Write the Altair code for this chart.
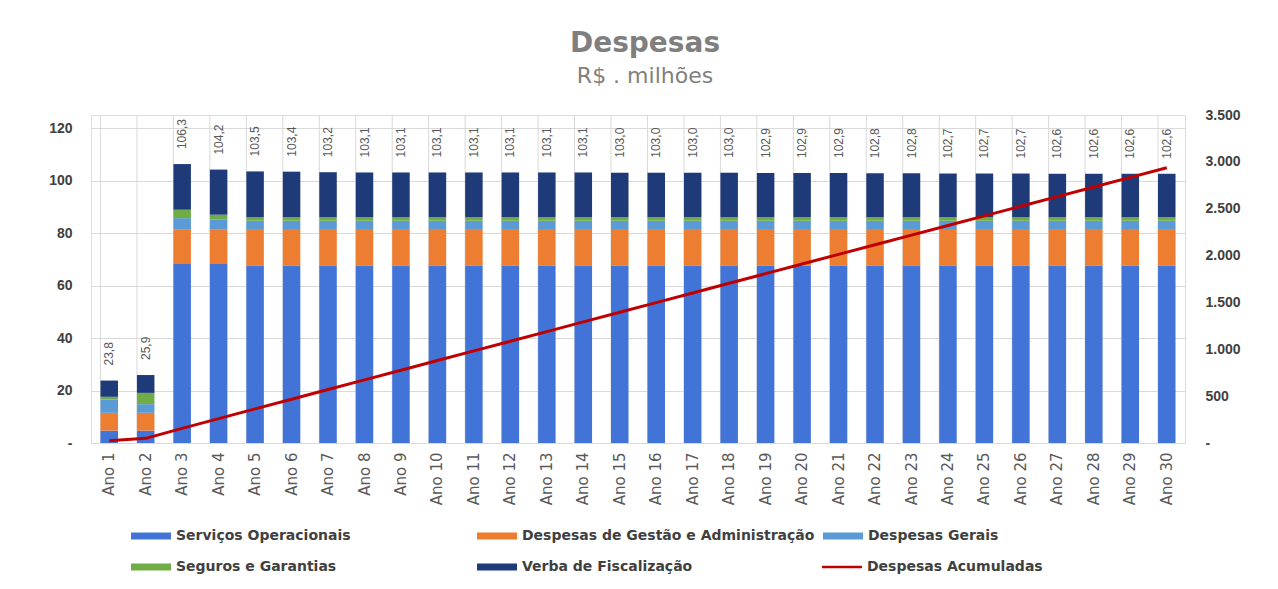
import altair as alt
import pandas as pd

anos = ["Ano 1", "Ano 2", "Ano 3", "Ano 4", "Ano 5", "Ano 6", "Ano 7", "Ano 8", "Ano 9", "Ano 10",
        "Ano 11", "Ano 12", "Ano 13", "Ano 14", "Ano 15", "Ano 16", "Ano 17", "Ano 18", "Ano 19", "Ano 20",
        "Ano 21", "Ano 22", "Ano 23", "Ano 24", "Ano 25", "Ano 26", "Ano 27", "Ano 28", "Ano 29", "Ano 30"]

series = ["Serviços Operacionais", "Despesas de Gestão e Administração", "Despesas Gerais",
          "Seguros e Garantias", "Verba de Fiscalização"]
serie_linha = "Despesas Acumuladas"

servicos = [4.7, 4.7, 68.2, 68.2, 67.6, 67.6, 67.6, 67.6, 67.6, 67.6,
            67.6, 67.6, 67.6, 67.6, 67.6, 67.6, 67.6, 67.6, 67.6, 67.6,
            67.6, 67.6, 67.6, 67.6, 67.6, 67.6, 67.6, 67.6, 67.6, 67.6]
gestao = [6.8, 6.8, 13.3, 13.3, 13.6, 13.6, 13.6, 13.6, 13.6, 13.6,
          13.6, 13.6, 13.6, 13.6, 13.6, 13.6, 13.6, 13.6, 13.6, 13.6,
          13.6, 13.6, 13.6, 13.6, 13.6, 13.6, 13.6, 13.6, 13.6, 13.6]
gerais = [5.1, 3.3, 4.2, 3.6, 3.5, 3.5, 3.5, 3.5, 3.5, 3.5,
          3.5, 3.5, 3.5, 3.5, 3.5, 3.5, 3.5, 3.5, 3.5, 3.5,
          3.5, 3.5, 3.5, 3.5, 3.5, 3.5, 3.5, 3.5, 3.5, 3.5]
seguros = [1.0, 4.3, 3.2, 1.9, 1.3, 1.3, 1.3, 1.3, 1.3, 1.3,
           1.3, 1.3, 1.3, 1.3, 1.3, 1.3, 1.3, 1.3, 1.3, 1.3,
           1.3, 1.3, 1.3, 1.3, 1.3, 1.3, 1.3, 1.3, 1.3, 1.3]
verba = [6.2, 6.8, 17.4, 17.2, 17.5, 17.4, 17.2, 17.1, 17.1, 17.1,
         17.1, 17.1, 17.1, 17.1, 17.0, 17.0, 17.0, 17.0, 16.9, 16.9,
         16.9, 16.8, 16.8, 16.7, 16.7, 16.7, 16.6, 16.6, 16.6, 16.6]

totais = [23.8, 25.9, 106.3, 104.2, 103.5, 103.4, 103.2, 103.1, 103.1, 103.1,
          103.1, 103.1, 103.1, 103.1, 103.0, 103.0, 103.0, 103.0, 102.9, 102.9,
          102.9, 102.8, 102.8, 102.7, 102.7, 102.7, 102.6, 102.6, 102.6, 102.6]

acumulado = [23.8, 49.7, 156.0, 260.2, 363.7, 467.1, 570.3, 673.4, 776.5, 879.6,
             982.7, 1085.8, 1188.9, 1292.0, 1395.0, 1498.0, 1601.0, 1704.0, 1806.9, 1909.8,
             2012.7, 2115.5, 2218.3, 2321.0, 2423.7, 2526.4, 2629.0, 2731.6, 2834.2, 2936.8]

cores = ["#4273D6", "#ED7D31", "#5B9BD5", "#70AD47", "#1F3A78"]
cor_linha = "#C00000"

valores = [servicos, gestao, gerais, seguros, verba]
linhas = []
for j, nome in enumerate(series):
    for i, ano in enumerate(anos):
        linhas.append({"ano": ano, "serie": nome, "valor": valores[j][i], "ordem": j})
df_barras = pd.DataFrame(linhas)

df_tot = pd.DataFrame({"ano": anos, "total": totais, "acumulado": acumulado,
                       "serie": [serie_linha] * len(anos)})

x_enc = alt.X("ano:N", sort=anos, title=None,
              scale=alt.Scale(paddingInner=0.52, paddingOuter=0.26),
              axis=alt.Axis(labelAngle=270, ticks=False, domain=False, grid=False,
                            labelFont="DejaVu Sans", labelFontSize=15, labelColor="#595959",
                            labelPadding=9))

rect_shape = "M-2,-0.35H2V0.35H-2Z"
line_shape = "M-2,-0.13H2V0.13H-2Z"

legend_common = dict(
    title=None, orient="none", symbolSize=400, symbolStrokeWidth=0,
    labelFont="DejaVu Sans", labelFontSize=14, labelFontWeight="bold",
    labelColor="#404040", labelOffset=15, labelLimit=400, padding=0,
)

legend_barras = alt.Legend(legendX=50, legendY=411, columns=3, gridAlign="all",
                           direction="horizontal",
                           columnPadding=8, rowPadding=14, symbolType=rect_shape,
                           **legend_common)
legend_linha = alt.Legend(legendX=741, legendY=442, symbolType=line_shape,
                          symbolFillColor=cor_linha, **legend_common)

grade = alt.Chart(df_tot).mark_rule(color="#d9d9d9", strokeWidth=1).encode(
    x=alt.X("ano:N", sort=anos, bandPosition=0)
)

barras = alt.Chart(df_barras).mark_bar().encode(
    x=x_enc,
    y=alt.Y("valor:Q", stack="zero", title=None,
            scale=alt.Scale(domain=[0, 125], nice=False),
            axis=alt.Axis(values=[0, 20, 40, 60, 80, 100, 120],
                          labelExpr="datum.value === 0 ? '-' : datum.label",
                          ticks=False, domain=False, grid=True, gridColor="#d9d9d9",
                          labelFont="Liberation Sans", labelFontSize=14, labelFontWeight="bold",
                          labelColor="#404040", labelPadding=19)),
    color=alt.Color("serie:N", scale=alt.Scale(domain=series, range=cores), legend=legend_barras),
    order=alt.Order("ordem:Q", sort="ascending"),
)

rotulos = alt.Chart(df_tot).transform_calculate(
    rot="replace(format(datum.total, '.1f'), '.', ',')"
).mark_text(angle=270, align="left", baseline="middle", dx=15, fontSize=12,
            font="Liberation Sans", color="#595959").encode(
    x=alt.X("ano:N", sort=anos),
    y=alt.Y("total:Q", scale=alt.Scale(domain=[0, 125], nice=False)),
    text="rot:N",
)

esquerda = alt.layer(grade, barras, rotulos)

linha = alt.Chart(df_tot).mark_line(strokeWidth=3).encode(
    x=alt.X("ano:N", sort=anos),
    y=alt.Y("acumulado:Q", title=None,
            scale=alt.Scale(domain=[0, 3500], nice=False),
            axis=alt.Axis(orient="right", values=[0, 500, 1000, 1500, 2000, 2500, 3000, 3500],
                          labelExpr="datum.value === 0 ? '-' : replace(format(datum.value, ','), ',', '.')",
                          ticks=False, domain=False, grid=False,
                          labelFont="Liberation Sans", labelFontSize=14, labelFontWeight="bold",
                          labelColor="#404040", labelPadding=20)),
    stroke=alt.Stroke("serie:N", scale=alt.Scale(domain=[serie_linha], range=[cor_linha]),
                      legend=legend_linha),
)

chart = alt.layer(esquerda, linha).resolve_scale(y="independent").properties(
    width=1094, height=328,
    padding={"left": 83, "top": 107, "right": 85, "bottom": 140},
    autosize=alt.AutoSizeParams(type="none"),
    title=alt.TitleParams("Despesas", subtitle="R$ . milhões", anchor="middle",
                          font="DejaVu Sans", fontSize=28, fontWeight="bold", color="#7f7f7f",
                          subtitleFont="DejaVu Sans", subtitleFontSize=22,
                          subtitleColor="#7f7f7f", subtitlePadding=8, offset=21, dx=7),
).configure_view(fill="#f4f4f4", stroke="#d9d9d9").configure(background="white")

chart.save("out.html", embed_options={"renderer": "svg", "actions": False})
